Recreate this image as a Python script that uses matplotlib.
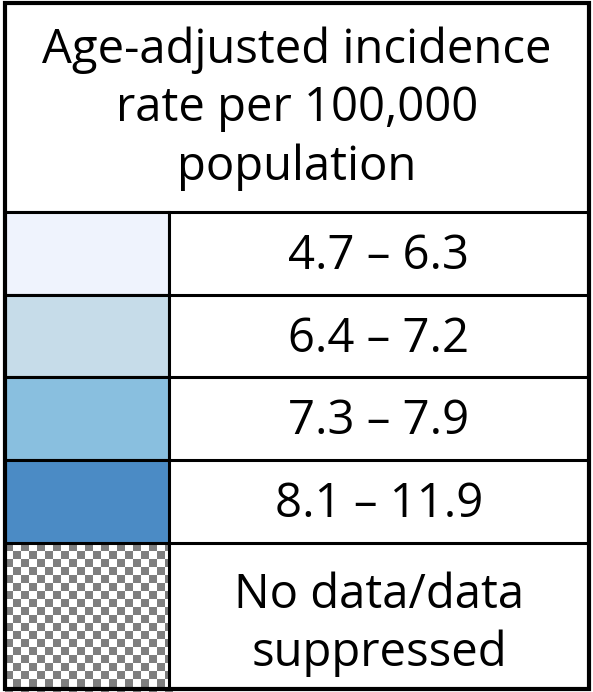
import numpy as np
import matplotlib.pyplot as plt
from matplotlib.patches import Rectangle
from matplotlib.colors import ListedColormap

title = 'Age-adjusted incidence\nrate per 100,000\npopulation'
labels = ['4.7 – 6.3', '6.4 – 7.2', '7.3 – 7.9', '8.1 – 11.9', 'No data/data\nsuppressed']
colors = ['#eff3fd', '#c6dce9', '#89bfdf', '#4b8bc5', None]

W, H = 593, 692
fig = plt.figure(figsize=(W / 100, H / 100), dpi=100)
ax = fig.add_axes([0, 0, 1, 1])
ax.set_xlim(0, W)
ax.set_ylim(H, 0)
ax.axis('off')

plt.rcParams['font.family'] = ['Open Sans', 'DejaVu Sans']
fs = 34

left, right, top, bottom = 5, 589, 3, 689
col = 169
row_tops = [212, 295, 377, 460, 543, bottom]

# header
ax.text((left + right) / 2, (top + row_tops[0]) / 2 + 1, title, ha='center', va='center',
        fontsize=fs, linespacing=1.3)

for i, lab in enumerate(labels):
    y0, y1 = row_tops[i], row_tops[i + 1]
    if colors[i] is not None:
        ax.add_patch(Rectangle((left, y0), col - left, y1 - y0, facecolor=colors[i],
                               edgecolor='#888888', lw=1.5, zorder=1))
        dy = 3
    else:
        # checkerboard swatch for missing data
        n_x = int(np.ceil((col - left) / 8))
        n_y = int(np.ceil((y1 - y0) / 8))
        board = np.indices((n_y, n_x)).sum(axis=0) % 2
        ax.imshow(board, cmap=ListedColormap(['#7f7f7f', 'white']),
                  extent=(left, left + n_x * 8, y0 + n_y * 8, y0), interpolation='nearest',
                  zorder=1, aspect='auto')
        ax.add_patch(Rectangle((col, y0), right - col, y1 - y0, facecolor='white',
                               edgecolor='none', zorder=1.5))
        dy = 8
    ax.text((col + right) / 2, (y0 + y1) / 2 + dy, lab, ha='center', va='center',
            fontsize=fs, linespacing=1.3, zorder=3)

# grid lines
lw = 2.2
for y in row_tops[:-1]:
    ax.plot([left, right], [y, y], color='black', lw=lw, zorder=2, solid_capstyle='butt')
ax.plot([col, col], [row_tops[0], bottom], color='black', lw=lw, zorder=2)
ax.add_patch(Rectangle((left, top), right - left, bottom - top, fill=False,
                       edgecolor='black', lw=3, zorder=4))

ax.set_xlim(0, W)
ax.set_ylim(H, 0)
fig.savefig('out.png', dpi=100)
